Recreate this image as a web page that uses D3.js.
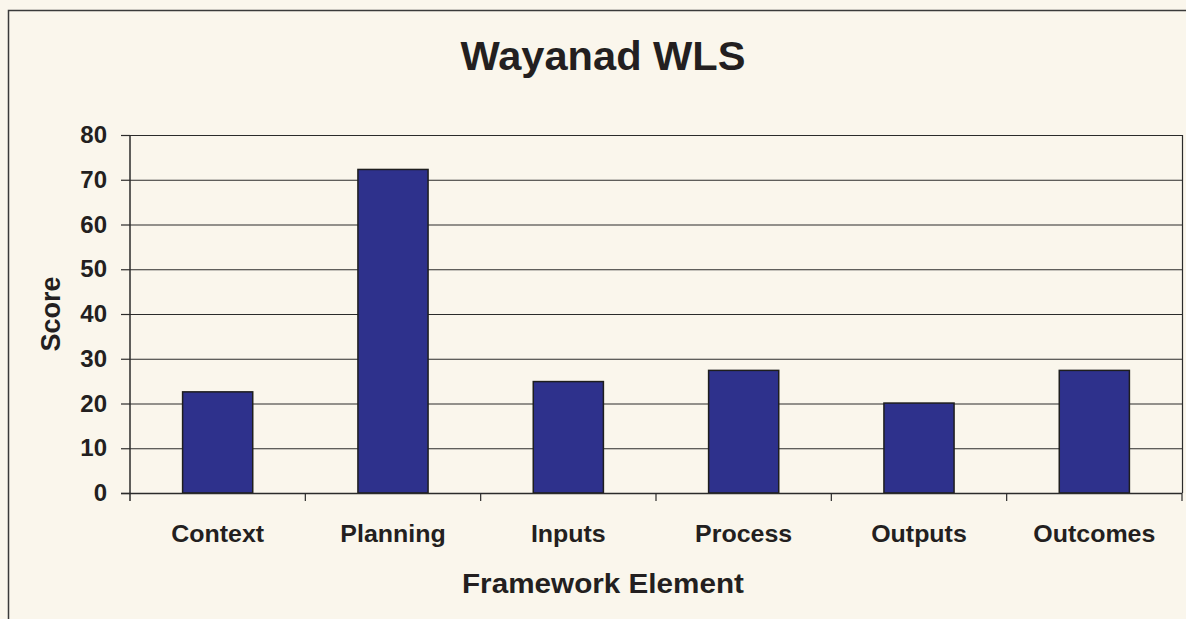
<!DOCTYPE html>
<html>
<head>
<meta charset="utf-8">
<script src="https://cdn.jsdelivr.net/npm/d3@7"></script>
<style>
  html, body { margin: 0; padding: 0; background: #faf6ec; }
  text { font-family: "Liberation Sans", Arial, sans-serif; font-weight: bold; fill: #231f20; }
</style>
</head>
<body>
<div id="viz"></div>
<script>
// chart data
var categories = ['Context', 'Planning', 'Inputs', 'Process', 'Outputs', 'Outcomes'];
var scores = [22.6, 72.3, 24.9, 27.4, 20.1, 27.4];
var yTicks = [0, 10, 20, 30, 40, 50, 60, 70, 80];

var width = 1186, height = 619;

var svg = d3.select('#viz').append('svg')
  .attr('width', width)
  .attr('height', height);

// outer chart border (open at the right and bottom like the crop)
svg.append('path')
  .attr('d', 'M8.5,' + height + 'V10.5H' + width)
  .attr('fill', 'none')
  .attr('stroke', '#3a3a3a')
  .attr('stroke-width', 1.5);

// plot area
var plot = { left: 130, right: 1182, top: 135, bottom: 493 };

var x = d3.scaleBand()
  .domain(categories)
  .range([plot.left, plot.right])
  .paddingInner(0.6)
  .paddingOuter(0.3);

var xTicks = d3.scaleBand().domain(categories).range([plot.left, plot.right]);

var y = d3.scaleLinear().domain([0, 80]).range([plot.bottom, plot.top]);

// gridlines
svg.append('g')
  .selectAll('line')
  .data(yTicks.slice(1))
  .enter().append('line')
  .attr('x1', plot.left).attr('x2', plot.right)
  .attr('y1', function (d) { return y(d) + 0.5; })
  .attr('y2', function (d) { return y(d) + 0.5; })
  .attr('stroke', '#2b2b2b')
  .attr('stroke-width', 1.2);

// right edge of plot area
svg.append('line')
  .attr('x1', plot.right + 0.5).attr('x2', plot.right + 0.5)
  .attr('y1', plot.top).attr('y2', plot.bottom)
  .attr('stroke', '#2b2b2b')
  .attr('stroke-width', 1.2);

// bars
svg.append('g')
  .selectAll('rect')
  .data(scores)
  .enter().append('rect')
  .attr('x', function (d, i) { return x(categories[i]); })
  .attr('width', x.bandwidth())
  .attr('y', function (d) { return y(d); })
  .attr('height', function (d) { return y(0) - y(d); })
  .attr('fill', '#2e318c')
  .attr('stroke', '#1e1e1e')
  .attr('stroke-width', 1.5);

// y axis
var yAxis = svg.append('g')
  .attr('transform', 'translate(' + plot.left + ',0)')
  .call(d3.axisLeft(y).tickValues(yTicks).tickSize(9).tickPadding(14));
yAxis.select('.domain').attr('stroke', '#2b2b2b').attr('stroke-width', 1.5)
  .attr('d', 'M0,' + plot.top + 'V' + (plot.bottom + 8));
yAxis.selectAll('.tick line').attr('stroke', '#2b2b2b').attr('stroke-width', 1.2);
yAxis.selectAll('.tick text')
  .attr('font-size', 24)
  .attr('font-family', '"Liberation Sans", Arial, sans-serif')
  .attr('font-weight', 'bold')
  .attr('fill', '#231f20');

// x axis: baseline and tick marks between categories
var xAxis = svg.append('g');
xAxis.append('line')
  .attr('x1', plot.left - 9).attr('x2', plot.right)
  .attr('y1', plot.bottom + 0.5).attr('y2', plot.bottom + 0.5)
  .attr('stroke', '#2b2b2b').attr('stroke-width', 1.5);
xAxis.selectAll('.xtick')
  .data(categories)
  .enter().append('line')
  .attr('class', 'xtick')
  .attr('x1', function (d) { return xTicks(d) + xTicks.bandwidth(); })
  .attr('x2', function (d) { return xTicks(d) + xTicks.bandwidth(); })
  .attr('y1', plot.bottom).attr('y2', plot.bottom + 8)
  .attr('stroke', '#2b2b2b').attr('stroke-width', 1.2);
xAxis.selectAll('.xlabel')
  .data(categories)
  .enter().append('text')
  .attr('class', 'xlabel')
  .attr('x', function (d) { return xTicks(d) + xTicks.bandwidth() / 2; })
  .attr('y', 542)
  .attr('text-anchor', 'middle')
  .attr('font-size', 24)
  .attr('transform-origin', function (d) { return (xTicks(d) + xTicks.bandwidth() / 2) + 'px 542px'; })
  .attr('transform', 'scale(1.04,1)')
  .text(function (d) { return d; });

// titles
svg.append('text')
  .attr('x', 603).attr('y', 70)
  .attr('text-anchor', 'middle')
  .attr('font-size', 40)
  .attr('transform-origin', '603px 70px')
  .attr('transform', 'scale(1.04,1)')
  .text('Wayanad WLS');

svg.append('text')
  .attr('x', 603).attr('y', 593)
  .attr('text-anchor', 'middle')
  .attr('font-size', 28)
  .attr('transform-origin', '603px 593px')
  .attr('transform', 'scale(1.06,1)')
  .text('Framework Element');

svg.append('text')
  .attr('transform', 'translate(60,314) rotate(-90)')
  .attr('text-anchor', 'middle')
  .attr('font-size', 27)
  .text('Score');
</script>
</body>
</html>
